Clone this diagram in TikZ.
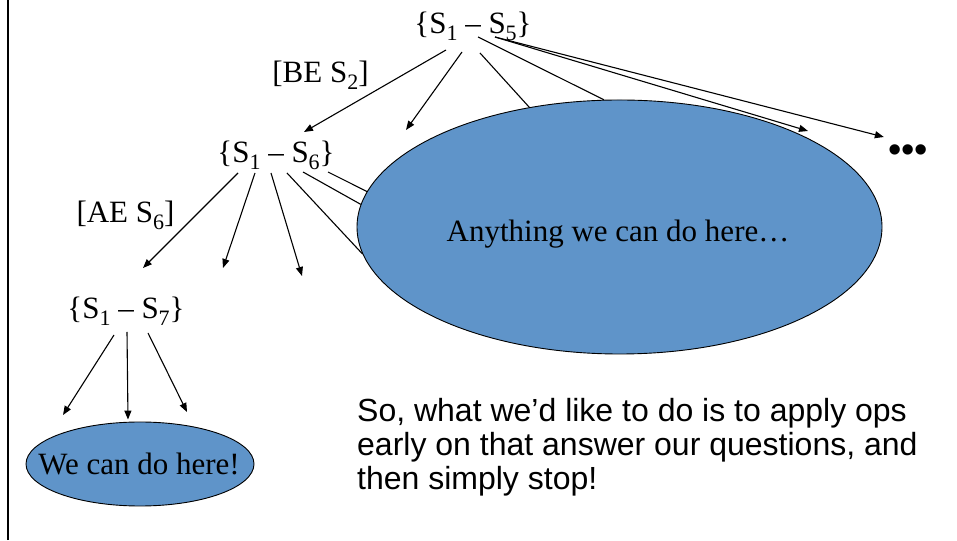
\documentclass[tikz,border=0pt]{standalone}
\usepackage{fontspec}
\setmainfont{Liberation Serif}
\newfontfamily\sansf{Liberation Sans}
\usetikzlibrary{shapes.geometric,arrows.meta}
\definecolor{stateblue}{RGB}{95,148,201}
% lowered, smaller index after a state letter
\newcommand\subs[1]{\raisebox{-0.22em}{\fontsize{22}{22}\selectfont #1}}
\begin{document}
\begin{tikzpicture}[x=1pt,y=1pt,
  state/.style={inner sep=0pt, font=\fontsize{31}{31}\selectfont, anchor=base},
  oplabel/.style={inner sep=0pt, font=\fontsize{31}{31}\selectfont, anchor=base},
  goal/.style={ellipse, draw=black, line width=0.9pt, fill=stateblue, inner sep=0pt},
  edge/.style={line width=1.1pt, -{Triangle[length=9pt,width=7pt]}},
  plain/.style={line width=1.1pt}]
\useasboundingbox (0,0) rectangle (957,540);
\draw[line width=2pt] (7.5,0) -- (7.5,540);

% goal regions
\node[goal, minimum width=525pt, minimum height=254pt] (big) at (619.5,313) {};
\node[state] (anytxt) at (618,298) {Anything we can do here…};
\node[goal, minimum width=228pt, minimum height=84pt] (ws) at (140,76) {};
\node[state] (wstxt) at (139,65.5) {We can do here!};

% states and operator labels
\node[state] (s5) at (473,506.5) {\{S\subs{1} – S\subs{5}\}};
\node[state] (s6) at (276,377) {\{S\subs{1} – S\subs{6}\}};
\node[state] (s7) at (126,221) {\{S\subs{1} – S\subs{7}\}};
\node[oplabel] (be) at (320.5,457) {[BE S\subs{2}]};
\node[oplabel] (ae) at (125.5,317) {[AE S\subs{6}]};
\node[inner sep=0pt, font=\sansf\fontsize{38}{38}\selectfont] (dots) at (908,386) {•••};

\node[anchor=north west, inner sep=0pt, align=left,
      font=\sansf\fontsize{32}{34}\selectfont] (note) at (357,142)
  {So, what we’d like to do is to apply ops\\early on that answer our questions, and\\then simply stop!};

% open ends of branches
\coordinate (t2) at (406,410);
\coordinate (t5) at (808,409);
\coordinate (u2) at (223,272);
\coordinate (u3) at (302,264);
\coordinate (v1) at (63,125);
\coordinate (v3) at (187,128);

% branches from {S1 - S5}
\draw[edge] ([xshift=-27pt,yshift=-16.5pt]s5.base) -- ([xshift=28pt,yshift=31pt]s6.base);
\draw[edge] ([xshift=-11pt,yshift=-18.5pt]s5.base) -- (t2);
\draw[plain] ([xshift=7pt,yshift=-19.5pt]s5.base) -- (big.127);
\draw[plain] ([xshift=5pt,yshift=-3.5pt]s5.base) -- (big.97);
\draw[edge] ([xshift=22pt,yshift=-3.5pt]s5.base) -- (t5);
\draw[edge] ([xshift=22pt,yshift=-3.5pt]s5.base) -- ([xshift=-4pt,yshift=17pt]dots.west);

% branches from {S1 - S6}
\draw[edge] ([xshift=-38pt,yshift=-10pt]s6.base) -- ([xshift=17pt,yshift=51pt]s7.base);
\draw[edge] ([xshift=-21pt,yshift=-10pt]s6.base) -- (u2);
\draw[edge] ([xshift=-5pt,yshift=-10pt]s6.base) -- (u3);
\draw[plain] ([xshift=11pt,yshift=-10pt]s6.base) -- (big.186);
\draw[plain] ([xshift=27pt,yshift=-9pt]s6.base) -- (big.175);
\draw[plain] ([xshift=52pt,yshift=-9pt]s6.base) -- (big.172);

% branches from {S1 - S7}
\draw[edge] ([xshift=-12pt,yshift=-16pt]s7.base) -- (v1);
\draw[edge] ([xshift=1pt,yshift=-13pt]s7.base) -- ([xshift=-12pt,yshift=2pt]ws.north);
\draw[edge] ([xshift=22pt,yshift=-14pt]s7.base) -- (v3);
\end{tikzpicture}
\end{document}
